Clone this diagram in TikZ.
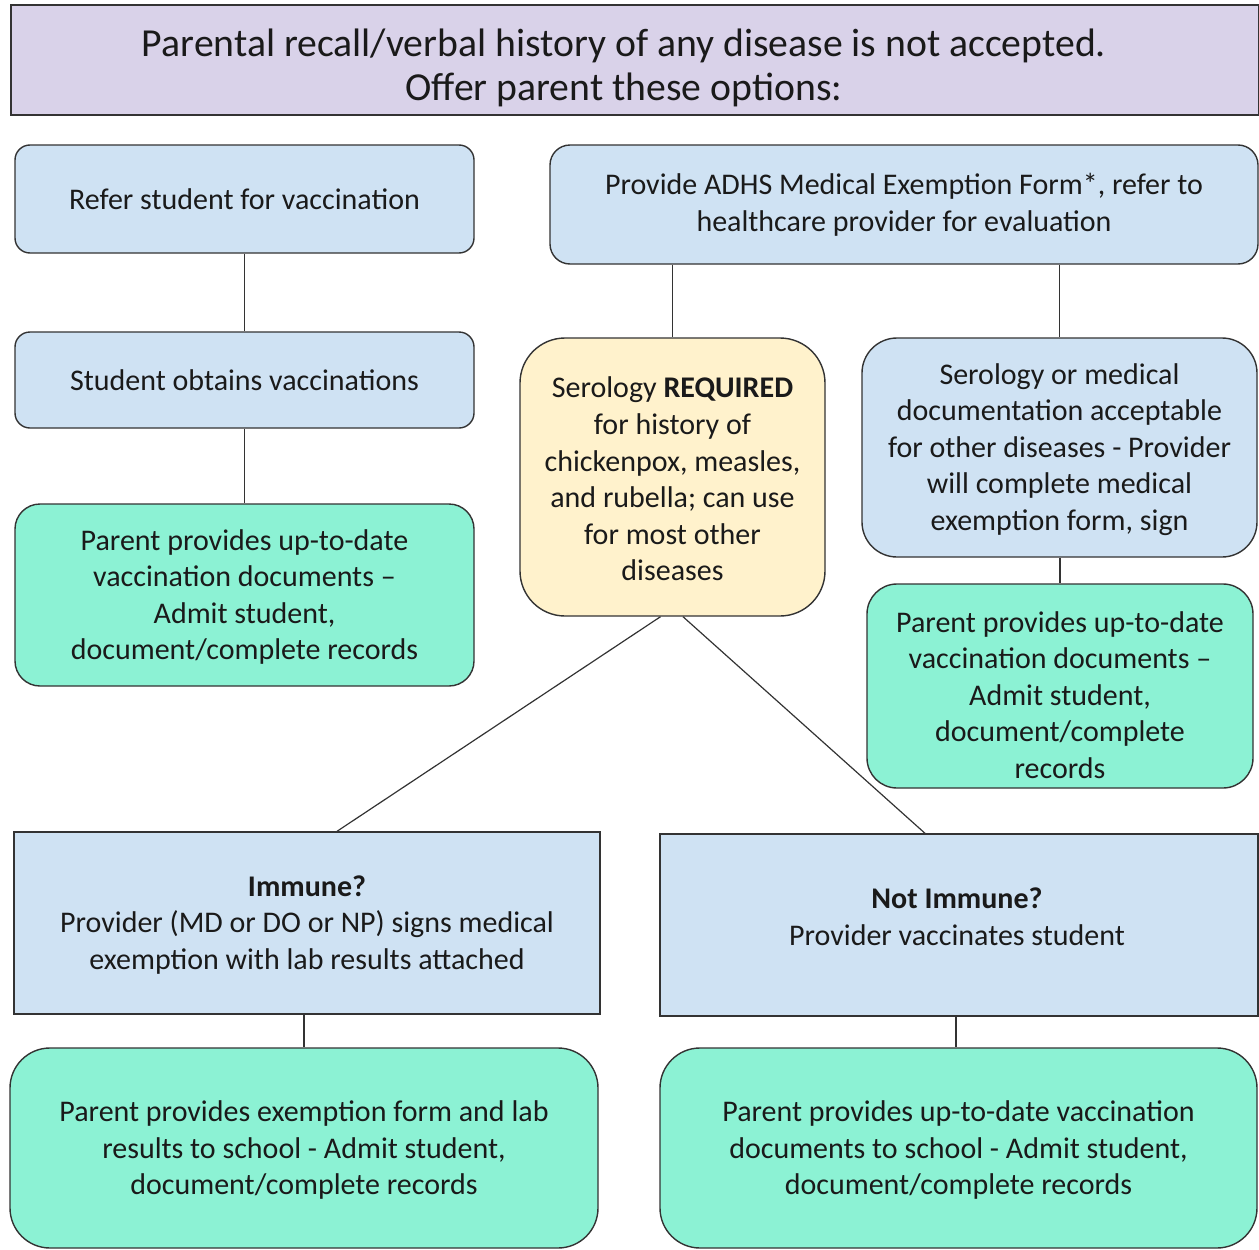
\documentclass[tikz,border=0pt]{standalone}
\usepackage{fontspec}
\setmainfont{Carlito}
\usetikzlibrary{calc}
\definecolor{cBlue}{HTML}{CFE2F3}
\definecolor{cGreen}{HTML}{8CF2D4}
\definecolor{cYellow}{HTML}{FFF2CC}
\definecolor{cLav}{HTML}{D9D2E9}
\definecolor{cLine}{HTML}{333333}
\definecolor{cText}{HTML}{1A1A1A}
\newcommand{\bodyfont}{\fontsize{30}{36.6}\selectfont}
\newcommand{\headfont}{\fontsize{39.7}{44}\selectfont}
\tikzset{
  basebox/.style={draw=cLine, line width=1.4pt, inner sep=0pt, align=center, font=\bodyfont, text=cText},
  bluebox/.style={basebox, fill=cBlue},
  greenbox/.style={basebox, fill=cGreen},
  yellowbox/.style={basebox, fill=cYellow},
  txt/.style={inner sep=0pt, align=center, font=\bodyfont, text=cText},
  conn/.style={draw=cLine, line width=1.2pt}
}
\begin{document}
\begin{tikzpicture}[x=1pt,y=-1pt]
\useasboundingbox (0,0) rectangle (1259,1250);
% header
\node[basebox, fill=cLav, minimum width=1248pt, minimum height=110pt] (head) at (635,60) {};
\node[txt, font=\headfont] (headt) at (624,68) {Parental recall/verbal history of any disease is not accepted.\\Offer parent these options:};
% left column
\node[bluebox, rounded corners=15pt, minimum width=459pt, minimum height=108pt] (refer) at (244.5,199) {Refer student for vaccination};
\node[bluebox, rounded corners=15pt, minimum width=459pt, minimum height=96pt] (obtain) at (244.5,380) {Student obtains vaccinations};
\node[greenbox, rounded corners=25pt, minimum width=459pt, minimum height=182pt] (greenL) at (244.5,595) {};
\node[txt] (greenLt) at (244.5,597) {Parent provides up-to-date\\vaccination documents --\\Admit student,\\document/complete records};
% right column
\node[bluebox, rounded corners=20pt, minimum width=708pt, minimum height=119pt] (adhs) at (904,204.5) {Provide ADHS Medical Exemption Form*, refer to\\healthcare provider for evaluation};
\node[yellowbox, rounded corners=45pt, minimum width=305pt, minimum height=278pt] (serreq) at (672.5,477) {};
\node[txt] (serreqt) at (672.5,479) {Serology \textbf{REQUIRED}\\for history of\\chickenpox, measles,\\and rubella; can use\\for most other\\diseases};
\node[bluebox, rounded corners=35pt, minimum width=395pt, minimum height=219pt] (seror) at (1059.5,447.5) {};
\node[txt] (serort) at (1059.5,449.5) {Serology or medical\\documentation acceptable\\for other diseases - Provider\\will complete medical\\exemption form, sign};
\node[greenbox, rounded corners=30pt, minimum width=386pt, minimum height=204pt] (greenR) at (1060,686) {};
\node[txt] (greenRt) at (1060,695) {Parent provides up-to-date\\vaccination documents --\\Admit student,\\document/complete\\records};
% bottom
\node[bluebox, minimum width=586pt, minimum height=182pt] (immune) at (307,923) {};
\node[txt] (immunet) at (307,925) {\textbf{Immune?}\\Provider (MD or DO or NP) signs medical\\exemption with lab results attached};
\node[bluebox, minimum width=598pt, minimum height=182pt] (notimm) at (959,925) {};
\node[txt] (notimmt) at (957,917) {\textbf{Not Immune?}\\Provider vaccinates student};
\node[greenbox, rounded corners=40pt, minimum width=588pt, minimum height=200pt] (greenBL) at (304,1148) {};
\node[txt] (greenBLt) at (304,1150) {Parent provides exemption form and lab\\results to school - Admit student,\\document/complete records};
\node[greenbox, rounded corners=40pt, minimum width=597pt, minimum height=200pt] (greenBR) at (958.5,1148) {};
\node[txt] (greenBRt) at (958.5,1150) {Parent provides up-to-date vaccination\\documents to school - Admit student,\\document/complete records};
% connectors
\draw[conn] (refer.south) -- (obtain.north);
\draw[conn] (obtain.south) -- (greenL.north);
\draw[conn] (serreq.north |- adhs.south) -- (serreq.north);
\draw[conn] (seror.north |- adhs.south) -- (seror.north);
\draw[conn] (greenR.north |- seror.south) -- (greenR.north);
\draw[conn] ($(serreq.south)+(-12,0)$) -- ($(immune.north)+(30,0)$);
\draw[conn] ($(serreq.south)+(10.5,0)$) -- ($(notimm.north)+(-34,0)$);
\draw[conn] (greenBL.north |- immune.south) -- (greenBL.north);
\draw[conn] ($(greenBR.north |- notimm.south)+(-2.5,0)$) -- ($(greenBR.north)+(-2.5,0)$);
\end{tikzpicture}
\end{document}
